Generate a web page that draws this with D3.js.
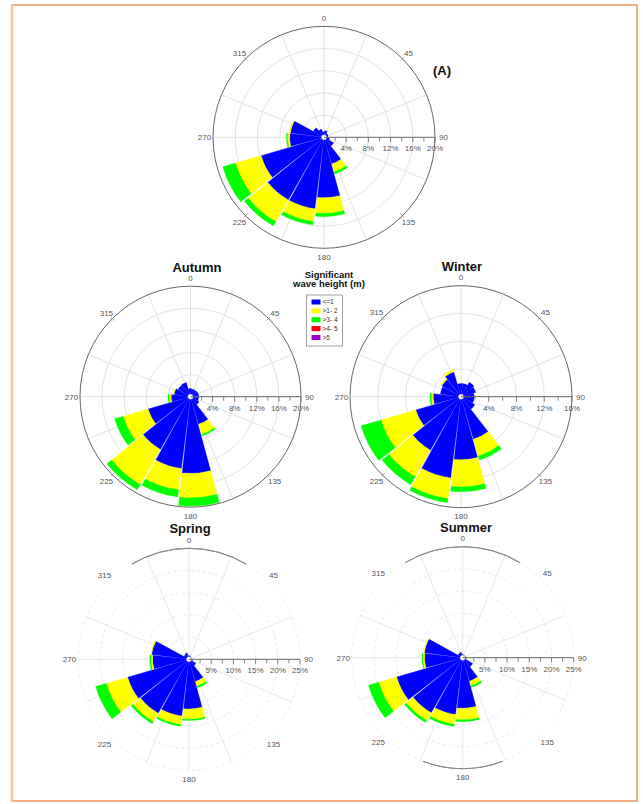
<!DOCTYPE html>
<html><head><meta charset="utf-8">
<script src="https://cdn.jsdelivr.net/npm/d3@7/dist/d3.min.js"></script>
<style>
body{margin:0;background:#fff}
svg{display:block}
text{font-family:"Liberation Sans",Arial,Helvetica,sans-serif}
</style>
</head><body>
<svg id="c" width="643" height="804"></svg>
<script>
// ---------- DATA ----------
const directions = [0,22.5,45,67.5,90,112.5,135,157.5,180,202.5,225,247.5,270,292.5,315,337.5];
const dirLabels = ["0","45","90","135","180","225","270","315"];
const dirLabelAngles = [0,45,90,135,180,225,270,315];
const classes = ["<=1", ">1- 2", ">3- 4", ">4- 5", ">5"];
const classColors = ["#0000ff","#ffff00","#00ff00","#ff0000","#9900cc"];
const legendTitle = ["Significant","wave height (m)"];
const zeroSeries = [0,0,0,0,0,0,0,0,0,0,0,0,0,0,0,0];

// (A) annual, % frequency per class
const annualLow    = [1.0,1.2,0.8,0.8,0.7,1.0,2.0,5.0,10.9,13.0,13.0,11.8,6.2,6.1,2.2,1.5];
const annualMid    = [0,0,0,0,0,0,0,1.5,2.8,2.3,4.5,4.8,0.4,0.2,0,0];
const annualHigh   = [0,0,0,0,0,0,0,0.4,0.6,0.6,0.9,2.4,0.2,0,0,0];
const annualTicks  = [4,8,12,16,20];

const autumnLow    = [1.5,1.4,1.4,1.5,1.5,1.5,1.8,5.2,13.9,13.1,11.0,8.0,3.5,3.0,2.6,2.7];
const autumnMid    = [0,0,0,0,0,0,0,1.9,4.4,3.9,7.3,4.7,0.4,0.2,0,0];
const autumnHigh   = [0,0,0,0,0,0,0,0.3,1.5,1.3,1.1,1.6,0.2,0,0,0];
const autumnTicks  = [4,8,12,16,20];

const winterLow    = [1.9,1.9,2.4,2.2,1.9,1.9,2.3,6.4,9.1,11.8,8.9,6.8,4.0,3.0,3.2,3.7];
const winterMid    = [0,0,0,0,0,0,0,2.5,3.9,3.0,4.4,5.2,0.3,0,0.2,0.3];
const winterHigh   = [0,0,0,0,0,0,0,0.6,0.7,0.6,1.3,3.0,0.2,0,0,0];
const winterTicks  = [4,8,12,16];

const springLow    = [0.8,0.8,0.6,0.6,0.6,0.8,1.8,5.2,11.2,12.9,14.0,14.4,8.2,8.5,1.3,1.5];
const springMid    = [0,0,0,0,0,0,0,1.1,2.3,1.9,2.2,5.0,0.4,0.2,0,0];
const springHigh   = [0,0,0,0,0,0,0,0.4,0.3,0.4,0.5,2.5,0.3,0,0,0];
const springTicks  = [5,10,15,20,25];

const summerLow    = [0.8,0.6,0.6,0.6,0.6,0.8,2.6,5.5,11.4,12.9,14.3,15.5,8.6,8.7,1.2,1.3];
const summerMid    = [0,0,0,0,0,0,0,1.1,2.6,2.2,2.0,4.2,0.4,0.2,0,0];
const summerHigh   = [0,0,0,0,0,0,0,0.4,0.4,0.5,0.5,2.4,0.2,0,0,0];
const summerTicks  = [5,10,15,20,25];

// ---------- DRAWING ----------
const svg = d3.select("#c");
const ROT = -4.5, HALF = 10.75;
const toRad = d => d * Math.PI / 180;
const pt = (deg, rad) => [Math.sin(toRad(deg)) * rad, -Math.cos(toRad(deg)) * rad];

// page frame
svg.append("rect").attr("x",12).attr("y",5).attr("width",625).attr("height",796)
  .attr("fill","none").attr("stroke","#f0975a").attr("stroke-width",1.5);
svg.append("line").attr("x1",12).attr("x2",12).attr("y1",5).attr("y2",801)
  .attr("stroke","#f8c39b").attr("stroke-width",2.5);

const charts = [
  {title:"(A)", series:[annualLow,annualMid,annualHigh,zeroSeries,zeroSeries], ticks:annualTicks,
   cx:324, cy:137.3, R:111, faded:false, tx:433, ty:75, anchor:"start"},
  {title:"Autumn", series:[autumnLow,autumnMid,autumnHigh,zeroSeries,zeroSeries], ticks:autumnTicks,
   cx:190.5, cy:396.7, R:110.5, faded:false, tx:197, ty:271.5, anchor:"middle"},
  {title:"Winter", series:[winterLow,winterMid,winterHigh,zeroSeries,zeroSeries], ticks:winterTicks,
   cx:461, cy:396.7, R:111, faded:false, tx:462, ty:271, anchor:"middle"},
  {title:"Spring", series:[springLow,springMid,springHigh,zeroSeries,zeroSeries], ticks:springTicks,
   cx:189, cy:659.3, R:111, faded:true, darkArcs:[[-31,31]], tx:190, ty:532.5, anchor:"middle"},
  {title:"Summer", series:[summerLow,summerMid,summerHigh,zeroSeries,zeroSeries], ticks:summerTicks,
   cx:462.7, cy:657.7, R:111, faded:true, darkArcs:[[-31,31],[159,201]], tx:466, ty:532, anchor:"middle"}
];

function drawRose(cfg){
  const g = svg.append("g").attr("transform",`translate(${cfg.cx},${cfg.cy})`);
  const maxV = cfg.ticks[cfg.ticks.length-1];
  const r = d3.scaleLinear().domain([0,maxV]).range([0,cfg.R]);
  const grid = g.append("g");
  const gridCol = cfg.faded ? "#e2e2e2" : "#dcdcdc";

  cfg.ticks.slice(0,-1).forEach(t => {
    grid.append("circle").attr("r", r(t)).attr("fill","none")
      .attr("stroke", gridCol).attr("stroke-width", 0.8)
      .attr("stroke-dasharray", cfg.faded ? "3,3" : null);
  });
  [22.5,67.5,112.5,157.5,202.5,247.5,292.5,337.5,0,180,270].forEach(a => {
    const [x,y] = pt(a, cfg.R);
    grid.append("line").attr("x1",0).attr("y1",0).attr("x2",x).attr("y2",y)
      .attr("stroke", gridCol).attr("stroke-width",0.8);
  });
  if (!cfg.faded){
    grid.append("circle").attr("r", cfg.R).attr("fill","none").attr("stroke","#666").attr("stroke-width",1);
    dirLabelAngles.forEach(a => {
      if (a % 90 === 0) return;
      const [x1,y1] = pt(a, cfg.R - 3), [x2,y2] = pt(a, cfg.R + 2);
      grid.append("line").attr("x1",x1).attr("y1",y1).attr("x2",x2).attr("y2",y2)
        .attr("stroke","#888").attr("stroke-width",0.8);
    });
  } else {
    grid.append("circle").attr("r", cfg.R).attr("fill","none").attr("stroke","#e4e4e4")
      .attr("stroke-width",0.8).attr("stroke-dasharray","3,3");
    cfg.darkArcs.forEach(([a0,a1]) => {
      grid.append("path").attr("d", d3.arc()({innerRadius:cfg.R, outerRadius:cfg.R,
        startAngle:toRad(a0), endAngle:toRad(a1)}))
        .attr("fill","none").attr("stroke","#8a8a8a").attr("stroke-width",1);
    });
  }

  // wedges (stacked classes)
  const arc = d3.arc();
  const wg = g.append("g");
  directions.forEach((d,k) => {
    let cum = 0;
    cfg.series.forEach((s,i) => {
      const v = s[k];
      if (!(v > 0)) return;
      wg.append("path").attr("d", arc({innerRadius:r(cum), outerRadius:r(cum+v),
          startAngle:toRad(d+ROT-HALF), endAngle:toRad(d+ROT+HALF)}))
        .attr("fill", classColors[i]).attr("stroke", classColors[i]).attr("stroke-width",0.3);
      cum += v;
    });
  });
  g.append("circle").attr("r",2.5).attr("fill","#fff").attr("stroke","#bbb").attr("stroke-width",0.5);

  // radial axis to the east
  const ax = g.append("g");
  ax.append("line").attr("x1",0).attr("x2",cfg.R).attr("y1",0).attr("y2",0)
    .attr("stroke","#666").attr("stroke-width",1);
  const step = cfg.ticks[0]/2;
  d3.range(step, maxV + step/2, step).forEach(v => {
    const major = cfg.ticks.some(t => Math.abs(t - v) < 1e-6);
    ax.append("line").attr("x1",r(v)).attr("x2",r(v)).attr("y1",0).attr("y2", major ? 5 : 4)
      .attr("stroke","#666").attr("stroke-width",0.8);
  });
  cfg.ticks.forEach(t => {
    ax.append("text").attr("x", r(t)).attr("y", 14).attr("text-anchor","middle")
      .attr("font-size",8).attr("fill","#555").text(t + "%");
  });
  // direction labels
  dirLabelAngles.forEach((a,i) => {
    const [x,y] = pt(a, cfg.R + 8.5);
    g.append("text").attr("x",x).attr("y",y + 3).attr("text-anchor","middle")
      .attr("font-size",8).attr("fill","#555").text(dirLabels[i]);
  });
  svg.append("text").attr("x",cfg.tx).attr("y",cfg.ty).attr("text-anchor",cfg.anchor)
    .attr("font-size",13).attr("font-weight","bold").attr("fill","#111").text(cfg.title);
}
charts.forEach(drawRose);

// legend
const lg = svg.append("g");
lg.append("text").attr("x",329).attr("y",277.5).attr("text-anchor","middle")
  .attr("font-size",9.5).attr("font-weight","bold").attr("fill","#111").text(legendTitle[0]);
lg.append("text").attr("x",329).attr("y",287).attr("text-anchor","middle")
  .attr("font-size",9.5).attr("font-weight","bold").attr("fill","#111").text(legendTitle[1]);
lg.append("rect").attr("x",306.5).attr("y",295).attr("width",36).attr("height",51)
  .attr("fill","#fff").attr("stroke","#888").attr("stroke-width",0.8);
const ly = d3.scaleLinear().domain([0,4]).range([299.5,335]);
classes.forEach((c,i) => {
  lg.append("rect").attr("x",311.5).attr("y",ly(i)).attr("width",9).attr("height",5).attr("fill",classColors[i]);
  lg.append("text").attr("x",322.5).attr("y",ly(i)+4.6).attr("font-size",6.5).attr("fill","#333").text(c);
});
</script>
</body></html>
